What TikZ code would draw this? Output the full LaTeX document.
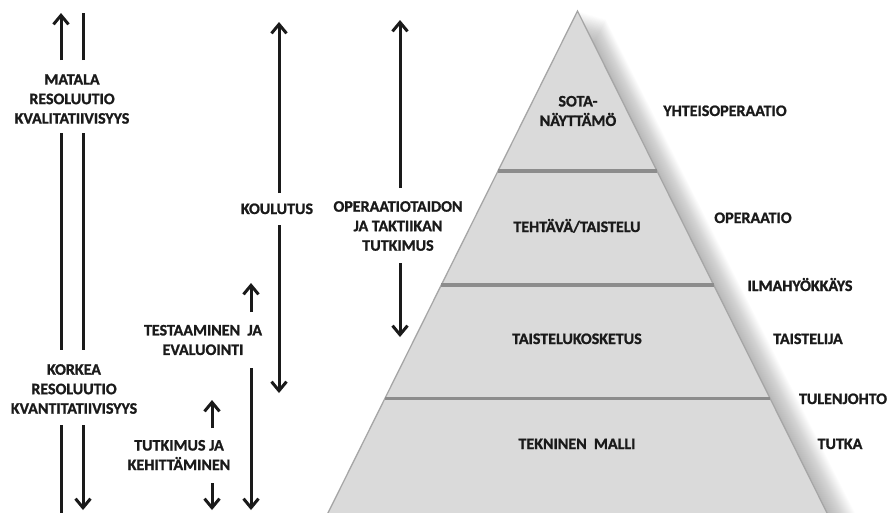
\documentclass[tikz,border=0pt]{standalone}
\usepackage{fontspec}
\setmainfont{Carlito}[BoldFeatures={FakeBold=1.2}]
\usetikzlibrary{arrows.meta}
\definecolor{ink}{HTML}{1A1A1A}
\definecolor{pyrfill}{HTML}{DADADA}
\definecolor{pyredge}{HTML}{A6A6A6}
\definecolor{divider}{HTML}{8C8C8C}

\begin{document}
\begin{tikzpicture}[x=1pt,y=-1pt,
  lbl/.style={font=\bfseries\fontsize{16}{19.5}\selectfont, text=ink,
              align=center, inner sep=0pt},
  one/.style={lbl, text height=10pt, text depth=0pt},
  shaft/.style={draw=ink, line width=3pt},
  tip/.style={shaft, -{Straight Barb[length=9pt,width=15pt]}},
  divline/.style={draw=divider, line width=3.5pt},
]
\useasboundingbox (0,0) rectangle (890,512);
\clip (0,0) rectangle (890,512);

% ---------- pyramid ----------
\coordinate (apex) at (577.5,11);
\coordinate (bl) at (320.5,528);
\coordinate (br) at (834.5,528);

% soft shadow to the right
\foreach \i in {1,...,28}{
  \fill[black,opacity=0.011] (577.5+\i,11+0.3*\i) -- (834.5+\i,528) -- (320.5+\i,528) -- cycle;
}
\fill[pyrfill] (apex) -- (br) -- (bl) -- cycle;
\draw[pyredge, line width=1.3pt] (bl) -- (apex) -- (br);

% level dividers
\coordinate (d1l) at (498,171);   \coordinate (d1r) at (657,171);
\coordinate (d2l) at (441.3,285); \coordinate (d2r) at (713.7,285);
\coordinate (d3l) at (384.9,398.5); \coordinate (d3r) at (770.1,398.5);
\draw[divline] (d1l) -- (d1r);
\draw[divline] (d2l) -- (d2r);
\draw[divline] (d3l) -- (d3r);

% level names
\node[lbl] (sota) at (578,111) {SOTA-\\NÄYTTÄMÖ};
\node[one] (tehtava) at (577,227) {TEHTÄVÄ/TAISTELU};
\node[one] (kosketus) at (577,339) {TAISTELUKOSKETUS};
\node[one] (tekninen) at (577,444) {TEKNINEN\ \ MALLI};

% examples on the right
\node[one] (yhteis) at (725,111) {YHTEISOPERAATIO};
\node[one] (operaatio) at (753,218) {OPERAATIO};
\node[one] (ilma) at (800,286) {ILMAHYÖKKÄYS};
\node[one] (taistelija) at (808,339) {TAISTELIJA};
\node[one] (tulenjohto) at (843,399) {TULENJOHTO};
\node[one] (tutka) at (840,444) {TUTKA};

% ---------- resolution scale ----------
\node[lbl] (matala) at (72,99) {MATALA\\RESOLUUTIO\\KVALITATIIVISYYS};
\node[lbl] (korkea) at (74,389) {KORKEA\\RESOLUUTIO\\KVANTITATIIVISYYS};

\coordinate (lA1) at (61,60);  \coordinate (lA0) at (61,13);
\coordinate (lB0) at (61,133); \coordinate (lB1) at (61,350);
\coordinate (lC0) at (61,425); \coordinate (lC1) at (61,515);
\coordinate (rA1) at (83,60);  \coordinate (rA0) at (83,13);
\coordinate (rB0) at (83,133); \coordinate (rB1) at (83,350);
\coordinate (rC0) at (83,425); \coordinate (rC1) at (83,510);
\draw[tip] (lA1) -- (lA0);
\draw[shaft] (lB0) -- (lB1);
\draw[shaft] (lC0) -- (lC1);
\draw[shaft] (rA1) -- (rA0);
\draw[shaft] (rB0) -- (rB1);
\draw[tip] (rC0) -- (rC1);

% ---------- activities ----------
\node[one] (koulutus) at (277,209) {KOULUTUS};
\coordinate (kU0) at (279,193); \coordinate (kU1) at (279,22);
\coordinate (kD0) at (279,225); \coordinate (kD1) at (279,393);
\draw[tip] (kU0) -- (kU1);
\draw[tip] (kD0) -- (kD1);

\node[lbl] (optaito) at (398,226) {OPERAATIOTAIDON\\JA TAKTIIKAN\\TUTKIMUS};
\coordinate (oU0) at (400,188); \coordinate (oU1) at (400,20);
\coordinate (oD0) at (400,263); \coordinate (oD1) at (400,337);
\draw[tip] (oU0) -- (oU1);
\draw[tip] (oD0) -- (oD1);

\node[lbl] (testaus) at (203,340) {TESTAAMINEN\ \ JA\\EVALUOINTI};
\coordinate (tU0) at (251,312); \coordinate (tU1) at (251,283);
\coordinate (tD0) at (251,368); \coordinate (tD1) at (251,510);
\draw[tip] (tU0) -- (tU1);
\draw[tip] (tD0) -- (tD1);

\node[lbl] (tutkimus) at (179,455) {TUTKIMUS JA\\KEHITTÄMINEN};
\coordinate (uU0) at (212,428); \coordinate (uU1) at (212,400);
\coordinate (uD0) at (212,483); \coordinate (uD1) at (212,510);
\draw[tip] (uU0) -- (uU1);
\draw[tip] (uD0) -- (uD1);
\end{tikzpicture}
\end{document}
